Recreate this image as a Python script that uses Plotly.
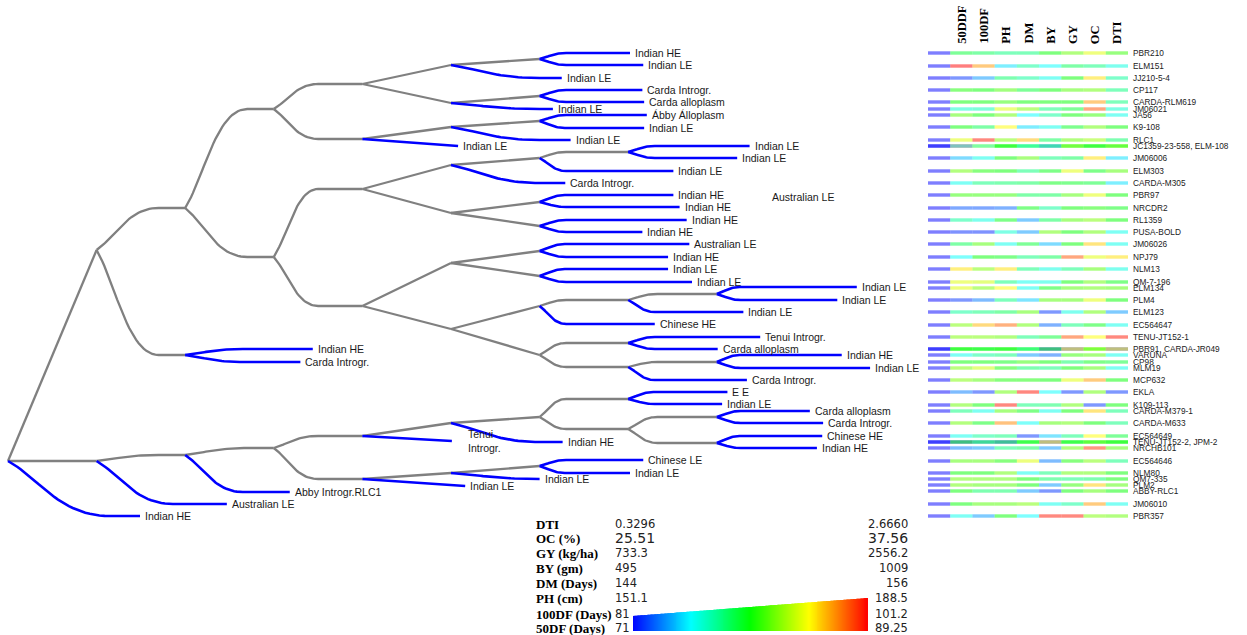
import plotly.graph_objects as go

W, H = 1247, 635

# ---------------- dendrogram ----------------
# internal nodes: id, parent, merge level (0 = root), vertical position
NODE_ID = ["R", "N1", "N1b", "N2", "N2b", "N2c", "N3", "N3b", "N3c", "N4a", "N4b", "N4c", "N4d", "N4e", "N4f",
           "A1", "A2", "A3", "A4", "A5", "A6", "A7", "E", "K",
           "B1", "B2", "B3", "B4", "B5", "B6", "B7", "B8", "B9", "B10", "F", "L",
           "C4", "C9", "C10", "C11", "G", "H", "D9", "D11", "I", "J"]
NODE_PARENT = [None, "R", "R", "N1", "N1", "N1b", "N2", "N2", "N2c", "N3", "N3", "N3b", "N3b", "N3c", "N3c",
               "N4a", "N4a", "N4b", "N4c", "N4c", "N4d", "N4d", "N4e", "N4f",
               "A1", "A2", "A3", "A4", "A5", "A5", "A6", "A6", "A7", "A7", "E", "K",
               "B4", "B9", "B10", "B10", "F", "F", "C9", "C11", "H", "H"]
NODE_LEVEL = [0, 1, 1, 2, 2, 2, 3, 3, 3, 4, 4, 4, 4, 4, 4,
              5, 5, 5, 5, 5, 5, 5, 5, 5,
              6, 6, 6, 6, 6, 6, 6, 6, 6, 6, 6, 6,
              7, 7, 7, 7, 7, 7, 8, 8, 8, 8]
NODE_Y = [461, 250, 461, 208, 355, 455, 109, 257, 448, 84, 139, 189, 306, 436, 479,
          65, 103, 127, 165, 213, 263, 329, 423, 473,
          59, 96, 121, 158, 202, 226, 251, 276, 306, 355, 417, 466,
          152, 300, 343, 367, 399, 429, 294, 362, 417, 443]

# leaves: parent node, group label, vertical position, branch end (in level units)
LEAF_PARENT = ["B1", "B1", "A1", "B2", "B2", "A2", "B3", "B3", "A3", "N4b",
               "C4", "C4", "B4", "A4", "B5", "B5", "B6", "B6", "B7", "B7", "B8", "B8",
               "D9", "D9", "C9", "B9", "C10", "C10", "D11", "D11", "C11",
               "N2b", "N2b",
               "G", "G", "I", "I", "J", "J", "E", "N4e", "L", "L", "K", "N4f", "N2c", "N1b", "R"]
LEAF_LABEL = ["Indian HE", "Indian LE", "Indian LE", "Carda Introgr.", "Carda alloplasm", "Indian LE",
              "Ábby Álloplasm", "Indian LE", "Indian LE", "Indian LE",
              "Indian LE", "Indian LE", "Indian LE", "Carda Introgr.", "Indian HE", "Indian HE", "Indian HE",
              "Indian HE", "Australian LE", "Indian HE", "Indian LE", "Indian LE",
              "Indian LE", "Indian LE", "Indian LE", "Chinese HE", "Tenui Introgr.", "Carda alloplasm",
              "Indian HE", "Indian LE", "Carda Introgr.",
              "Indian HE", "Carda Introgr.",
              "E E", "Indian LE", "Carda alloplasm", "Carda Introgr.", "Chinese HE", "Indian HE", "Indian HE",
              "Tenui<br>Introgr.", "Chinese LE", "Indian LE", "Indian LE", "Indian LE", "Abby Introgr.RLC1",
              "Australian LE", "Indian HE"]
LEAF_Y = [53, 65, 78, 90, 102, 109, 115, 128, 140, 146,
          146, 158, 171, 183, 195, 207, 220, 232, 244, 257, 269, 282,
          287, 300, 312, 324, 337, 349, 355, 368, 380,
          349, 362,
          392, 404, 411, 423, 436, 448, 442, 441, 460, 473, 479, 486, 492, 504, 516]
LEAF_END = [7.02, 7.17, 6.25, 7.16, 7.18, 6.15, 7.21, 7.18, 6.35, 5.08,
            8.37, 8.23, 7.51, 6.29, 7.51, 7.58, 7.66, 7.16, 7.69, 7.45, 7.45, 7.72,
            9.58, 9.36, 8.30, 7.30, 8.49, 8.01, 9.41, 9.73, 8.34,
            3.44, 3.30,
            8.12, 8.06, 9.05, 9.20, 9.19, 9.13, 6.26, 5.01, 7.17, 7.02, 6.0, 5.16, 3.18, 2.47, 1.49]
FLOATING_LABEL = ("Australian LE", 8.6, 197)

# ---------------- trait strips ----------------
GENOTYPE = ["PBR210", "ELM151", "JJ210-5-4", "CP117", "CARDA-RLM619", "JM06021", "JA56", "K9-108", "RLC1",
            "JC1359-23-558", "ELM-108", "JM06006", "ELM303", "CARDA-M305", "PBR97", "NRCDR2", "RL1359",
            "PUSA-BOLD", "JM06026", "NPJ79", "NLM13", "QM-7-196", "ELM134", "PLM4", "ELM123", "EC564647",
            "TENU-JT152-1", "PBR91", "CARDA-JR049", "VARUNA", "CP98", "MLM19", "MCP632", "EKLA", "K109-113",
            "CARDA-M379-1", "CARDA-M633", "EC564649", "TENU-JT152-2", "JPM-2", "NRCHB101", "EC564646",
            "NLM80", "QM7-335", "PLM2", "ABBY-RLC1", "JM06010", "PBR357"]
GENO_Y = [53, 66, 78, 90, 102, 109, 115, 127, 140, 146, 146, 158, 171, 183, 195, 208, 220, 232, 244,
          257, 269, 282, 288, 300, 312, 325, 337, 349, 349, 355, 362, 368, 380, 392, 405, 411, 423, 436,
          442, 442, 448, 461, 473, 479, 485, 491, 504, 516]

DF50 = [79.2, 89.25, 71.9, 80.5, 80.1, 76.5, 81.6, 80.1, 84.1, 89.0, 75.6, 74.3, 82.0, 75.9, 81.0, 72.5,
        77.4, 71.7, 78.7, 75.6, 85.2, 84.1, 84.1, 71.9, 77.4, 82.3, 82.3, 80.1, 80.1, 75.9, 80.1, 82.3,
        82.3, 73.2, 82.0, 77.9, 82.0, 75.9, 71.0, 80.1, 73.2, 81.6, 80.1, 82.0, 82.0, 80.1, 80.1, 75.9]
DF100 = [89.5, 98.2, 84.0, 91.1, 91.1, 87.5, 91.1, 89.5, 100.8, 96.2, 87.1, 86.5, 91.5, 88.7, 92.1, 82.6,
         86.7, 81.8, 92.7, 91.1, 93.5, 95.1, 93.5, 83.4, 88.7, 97.6, 93.5, 90.1, 91.1, 88.1, 91.1, 95.1,
         92.7, 82.0, 91.1, 86.5, 90.7, 88.1, 83.0, 90.1, 84.0, 92.7, 91.1, 93.1, 92.7, 89.1, 92.7, 84.0]
PH = [165.3, 159.3, 166.1, 172.4, 171.7, 178.0, 173.5, 179.2, 174.3, 169.8, 169.8, 169.8, 169.8, 166.1,
      171.7, 154.8, 169.1, 162.3, 161.2, 169.1, 180.3, 165.3, 179.2, 165.3, 166.8, 184.8, 173.5, 169.8,
      169.8, 165.3, 169.1, 170.5, 170.5, 173.5, 187.8, 172.8, 183.6, 165.3, 151.1, 167.9, 165.3, 170.5,
      173.5, 173.5, 172.8, 166.1, 172.8, 169.8]
DM = [148.6, 148.2, 148.2, 149.4, 150.0, 151.4, 147.0, 146.6, 153.8, 148.2, 148.8, 151.0, 148.6, 149.0,
      149.0, 149.8, 145.8, 145.8, 149.4, 148.6, 148.6, 147.2, 147.2, 146.4, 151.0, 151.2, 148.6, 149.4,
      149.0, 145.8, 150.6, 148.8, 150.2, 155.8, 148.6, 149.8, 147.1, 144.6, 149.4, 150.0, 149.0, 152.6,
      147.2, 150.0, 150.0, 145.8, 151.4, 147.0]
BY = [752, 624, 634, 752, 752, 690, 675, 634, 711, 546, 701, 690, 742, 742, 711, 675, 711, 803, 588, 711,
      639, 639, 742, 793, 521, 546, 726, 495, 752, 546, 752, 690, 752, 624, 701, 634, 793, 598, 495, 881,
      572, 557, 690, 701, 572, 521, 634, 999]
GY = [1827, 1499, 1645, 1791, 1645, 1554, 1645, 1590, 1827, 1645, 1827, 1499, 2046, 1590, 1791, 1645,
      1791, 1645, 1645, 2410, 1426, 1645, 1791, 1791, 1244, 1426, 2410, 733, 2100, 1736, 1462, 1645,
      2046, 824, 1827, 1645, 1827, 1426, 1554, 1645, 1827, 1681, 1827, 1426, 1736, 1645, 1371, 2520]
OC = [34.19, 30.09, 34.91, 32.74, 35.75, 36.60, 32.14, 32.74, 33.34, 31.54, 31.54, 34.91, 31.29, 30.93,
      34.19, 31.78, 32.98, 32.74, 35.15, 34.19, 32.50, 32.74, 32.74, 34.19, 32.74, 31.29, 34.55, 34.55,
      31.54, 32.50, 31.29, 32.50, 35.75, 32.74, 26.11, 35.15, 31.54, 34.55, 32.98, 31.54, 36.96, 32.98,
      32.74, 30.33, 35.15, 32.50, 35.75, 32.98]
DTI = [1.615, 0.984, 1.147, 1.217, 1.217, 1.031, 0.960, 1.498, 1.264, 1.848, 1.498, 0.844, 1.685, 0.844,
       1.498, 1.451, 1.498, 0.960, 0.960, 2.152, 0.984, 1.451, 1.685, 1.498, 0.680, 0.960, 2.619, 0.330,
       2.082, 0.960, 1.381, 0.960, 1.498, 0.446, 1.498, 1.217, 1.217, 1.381, 1.498, 1.498, 1.685, 1.217,
       1.498, 1.498, 1.685, 1.498, 0.960, 1.731]

TRAIT_HEADER = ["50DDF", "100DF", "PH", "DM", "BY", "GY", "OC", "DTI"]
TRAIT_VALUES = [DF50, DF100, PH, DM, BY, GY, OC, DTI]

# colour key: rows from top to bottom
KEY_NAME = ["DTI", "OC (%)", "GY (kg/ha)", "BY (gm)", "DM (Days)", "PH (cm)", "100DF (Days)", "50DF (Days)"]
KEY_MIN = ["0.3296", "25.51", "733.3", "495", "144", "151.1", "81", "71"]
KEY_MAX = ["2.6660", "37.56", "2556.2", "1009", "156", "188.5", "101.2", "89.25"]
KEY_TRAIT = ["DTI", "OC", "GY", "BY", "DM", "PH", "100DF", "50DDF"]

RAINBOW = [[0.0, "#0000ff"], [0.25, "#00ffff"], [0.5, "#00ff00"], [0.75, "#ffff00"], [1.0, "#ff0000"]]

# ---------------- geometry helpers ----------------
LEVEL_PX = 88.6
INTERNAL_BEND = {1: None, 2: 0.7, 3: 0.7, 4: 0.5, 5: None, 6: None, 7: 0.3, 8: 0.33}
LEAF_BEND = {0: 1.15, 1: 0.86, 2: 0.65, 4: None, 5: 1.0, 6: 0.3, 7: 0.3, 8: 0.27}


def cubic(p0, p1, p2, p3, n=28):
    pts = []
    for i in range(n + 1):
        t = i / n
        u = 1 - t
        a, b, c, d = u ** 3, 3 * u * u * t, 3 * u * t * t, t ** 3
        pts.append((a * p0[0] + b * p1[0] + c * p2[0] + d * p3[0],
                    a * p0[1] + b * p1[1] + c * p2[1] + d * p3[1]))
    return pts


def branch(px, py, cx, cy, bend):
    if bend is None or cy == py:
        return [(px, py), (cx, cy)]
    qx = min(px + bend, cx)
    c1 = (px + 0.3 * (qx - px), py + 0.3 * (cy - py))
    c2 = (px + 0.5 * (qx - px), cy)
    pts = cubic((px, py), c1, c2, (qx, cy))
    if cx > qx:
        pts.append((cx, cy))
    return pts


pos = {n: (lv, y) for n, lv, y in zip(NODE_ID, NODE_LEVEL, NODE_Y)}

gx, gy = [], []
for n, par, lv, y in zip(NODE_ID, NODE_PARENT, NODE_LEVEL, NODE_Y):
    if par is None:
        continue
    px, py = pos[par]
    for xx, yy in branch(px, py, lv, y, INTERNAL_BEND[lv]):
        gx.append(xx)
        gy.append(yy)
    gx.append(None)
    gy.append(None)

bx, by = [], []
for par, y, end in zip(LEAF_PARENT, LEAF_Y, LEAF_END):
    px, py = pos[par]
    for xx, yy in branch(px, py, end, y, LEAF_BEND[px]):
        bx.append(xx)
        by.append(yy)
    bx.append(None)
    by.append(None)

fig = go.Figure()
fig.add_trace(go.Scatter(x=gx, y=gy, mode="lines", line=dict(color="#808080", width=2.3),
                         hoverinfo="skip", xaxis="x", yaxis="y"))
fig.add_trace(go.Scatter(x=bx, y=by, mode="lines", line=dict(color="#0000ff", width=2.6),
                         hoverinfo="skip", xaxis="x", yaxis="y"))

# ---------------- trait strips ----------------
# genotypes that share a row go to a second layer so the translucent strips blend
seen = set()
layer = []
for y in GENO_Y:
    layer.append(1 if y in seen else 0)
    seen.add(y)

for lay in (0, 1):
    idx = [i for i, l in enumerate(layer) if l == lay]
    ys = [GENO_Y[i] for i in idx]
    fig.add_trace(go.Bar(orientation="h", y=ys, x=[1] * len(ys), base=[-0.5] * len(ys), width=3.4,
                         marker=dict(color="#0000ff", line=dict(width=0)), opacity=0.5,
                         xaxis="x2", yaxis="y", hoverinfo="skip"))
    for j, (name, vals) in enumerate(zip(TRAIT_HEADER, TRAIT_VALUES)):
        k = KEY_TRAIT.index(name)
        lo, hi = float(KEY_MIN[k]), float(KEY_MAX[k])
        fig.add_trace(go.Bar(orientation="h", y=ys, x=[1] * len(ys), base=[j + 0.5] * len(ys), width=3.4,
                             marker=dict(color=[vals[i] for i in idx], colorscale=RAINBOW, cmin=lo, cmax=hi,
                                         line=dict(width=0)),
                             opacity=0.5, xaxis="x2", yaxis="y",
                             hovertext=[f"{GENOTYPE[i]}: {vals[i]}" for i in idx], hoverinfo="text"))

# ---------------- colour key wedge ----------------
N = 240
t = [(i + 0.5) / N for i in range(N)]
fig.add_trace(go.Bar(x=t, y=[15 + 18 * v for v in t], width=1.15 / N,
                     marker=dict(color=t, colorscale=RAINBOW, cmin=0, cmax=1, line=dict(width=0)),
                     xaxis="x3", yaxis="y3", hoverinfo="skip"))

ann = []
SANS = "Arial, Liberation Sans, sans-serif"
for lab, y, end in zip(LEAF_LABEL, LEAF_Y, LEAF_END):
    ann.append(dict(x=end, y=y, xref="x", yref="y", text=lab, showarrow=False, xanchor="left",
                    yanchor="middle", align="left", xshift=14 if "<br>" in lab else 3,
                    font=dict(family=SANS, size=10.5, color="#1a1a1a")))
ann.append(dict(x=FLOATING_LABEL[1], y=FLOATING_LABEL[2], xref="x", yref="y", text=FLOATING_LABEL[0],
                showarrow=False, xanchor="left", yanchor="middle",
                font=dict(family=SANS, size=10.5, color="#1a1a1a")))

for j, name in enumerate(TRAIT_HEADER):
    ann.append(dict(x=j + 1, y=46, xref="x2", yref="y", text=f"<b>{name}</b>", textangle=-90,
                    showarrow=False, xanchor="center", yanchor="bottom",
                    font=dict(family="Liberation Serif, Times New Roman, serif", size=12.5, color="#000")))

labels = {}
for g, y in zip(GENOTYPE, GENO_Y):
    labels.setdefault(y, []).append(g)
for y, names in labels.items():
    ann.append(dict(x=8.5, y=y, xref="x2", yref="y", text=", ".join(names), showarrow=False,
                    xanchor="left", yanchor="middle", xshift=3,
                    font=dict(family=SANS, size=8.3, color="#222")))

KEY_ROW_Y = [524, 538, 553, 568, 583, 598, 614, 628]
for name, lo, hi, yy in zip(KEY_NAME, KEY_MIN, KEY_MAX, KEY_ROW_Y):
    big = name.startswith("OC")
    fs = 14 if big else 11.5
    yp = 1 - yy / H
    ann.append(dict(x=534 / W, y=yp, xref="paper", yref="paper", text=f"<b>{name}</b>", showarrow=False,
                    xanchor="left", yanchor="middle",
                    font=dict(family="Liberation Serif, Times New Roman, serif", size=13, color="#000")))
    ann.append(dict(x=613 / W, y=yp, xref="paper", yref="paper", text=lo, showarrow=False,
                    xanchor="left", yanchor="middle", font=dict(family="DejaVu Sans", size=fs, color="#222")))
    ann.append(dict(x=910 / W, y=yp, xref="paper", yref="paper", text=hi, showarrow=False,
                    xanchor="right", yanchor="middle", font=dict(family="DejaVu Sans", size=fs, color="#222")))

fig.update_layout(
    width=W, height=H, autosize=False,
    margin=dict(l=0, r=0, t=0, b=0, pad=0),
    paper_bgcolor="white", plot_bgcolor="white",
    showlegend=False, barmode="overlay",
    xaxis=dict(domain=[0, 1], range=[-8 / LEVEL_PX, (W - 8) / LEVEL_PX], visible=False, fixedrange=True),
    yaxis=dict(domain=[0, 1], range=[H, 0], visible=False, fixedrange=True),
    xaxis2=dict(domain=[928 / W, 1128 / W], range=[-0.5, 8.5], anchor="y", visible=False, fixedrange=True),
    xaxis3=dict(domain=[633 / W, 868 / W], range=[0, 1], anchor="y3", visible=False, fixedrange=True),
    yaxis3=dict(domain=[(H - 631) / H, (H - 598) / H], range=[0, 33], anchor="x3", visible=False,
                fixedrange=True),
    annotations=ann,
)

fig.write_html("out.html", config={"displayModeBar": False})
